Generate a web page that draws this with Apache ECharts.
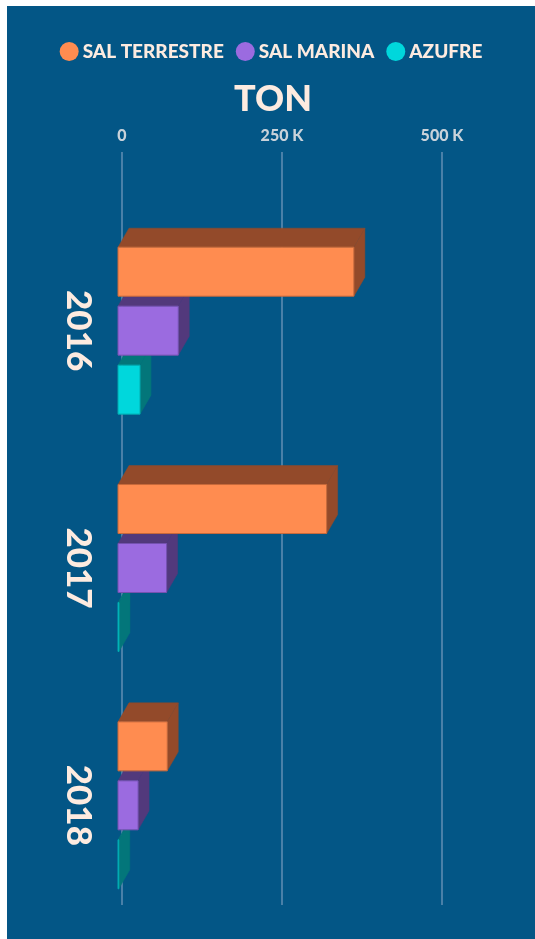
<!DOCTYPE html>
<html>
<head>
<meta charset="utf-8">
<script src="https://cdn.jsdelivr.net/npm/echarts@6/dist/echarts.min.js"></script>
<style>
  html, body { margin: 0; padding: 0; background: #ffffff; }
  #chart { position: absolute; left: 7px; top: 6px; width: 528px; height: 933px; }
</style>
</head>
<body>
<div id="chart"></div>
<script>
// ---- data ----
const years = ['2016', '2017', '2018'];
const seriesNames = ['SAL TERRESTRE', 'SAL MARINA', 'AZUFRE'];
const salTerrestre = [364000, 322000, 76000];
const salMarina = [93000, 75000, 31000];
const azufre = [34000, 1500, 1000];
const axisMin = 0;
const axisMax = 500000;
const axisInterval = 250000;
const axisTitle = 'TON';

// ---- styles ----
const BG = '#035686';
const PEACH = '#FDEBE0';
const faceColors = [
  { front: '#FF8C50', dark: '#934A2A', edge: '#C8693A' },
  { front: '#9B6BE0', dark: '#52397C', edge: '#7552B0' },
  { front: '#00D7DC', dark: '#03767A', edge: '#02A9AE' }
];
const DX = 11, DY = -19;

function makeRender(idx) {
  const c = faceColors[idx];
  return function (params, api) {
    const val = api.value(0);
    const cat = api.value(1);
    const base = api.coord([0, cat]);
    const end = api.coord([val, cat]);
    const band = api.size([0, 1])[1];
    const barH = band * 0.2065;
    const gap = band * 0.042;
    const cy = base[1] + (idx - 1) * (barH + gap);
    const y0 = cy - barH / 2, y1 = cy + barH / 2;
    const x0 = base[0], x1 = Math.max(end[0], base[0] + 0.8);
    return {
      type: 'group',
      children: [
        { type: 'polygon', shape: { points: [[x0, y0], [x1, y0], [x1 + DX, y0 + DY], [x0 + DX, y0 + DY]] },
          style: { fill: c.dark, stroke: c.dark, lineWidth: 0.5 } },
        { type: 'polygon', shape: { points: [[x1, y0], [x1, y1], [x1 + DX, y1 + DY], [x1 + DX, y0 + DY]] },
          style: { fill: c.dark, stroke: c.dark, lineWidth: 0.5 } },
        { type: 'rect', shape: { x: x0, y: y0, width: x1 - x0, height: y1 - y0 },
          style: { fill: c.front, stroke: c.edge, lineWidth: 1 } }
      ]
    };
  };
}

const allValues = [salTerrestre, salMarina, azufre];
const series = allValues.map(function (arr, i) {
  return {
    type: 'custom',
    name: seriesNames[i],
    xAxisIndex: 0,
    yAxisIndex: 0,
    z: 10 - i,
    clip: false,
    itemStyle: { color: faceColors[i].front },
    renderItem: makeRender(i),
    encode: { x: 0, y: 1 },
    data: arr.map(function (v, k) { return [v, k]; })
  };
});

const chart = echarts.init(document.getElementById('chart'), null, { renderer: 'canvas' });
chart.setOption({
  backgroundColor: BG,
  animation: false,
  legend: {
    data: seriesNames,
    top: 31,
    left: 'center',
    icon: 'circle',
    itemWidth: 19,
    itemHeight: 19,
    itemGap: 12,
    textStyle: { color: PEACH, fontFamily: 'Lato', fontWeight: 900, fontSize: 19, padding: [0, 0, 0, -1] }
  },
  graphic: [{
    type: 'text',
    x: 266,
    y: 93,
    style: { text: axisTitle, fill: PEACH, font: '900 36px Lato', textAlign: 'center', textVerticalAlign: 'middle' }
  }],
  grid: [
    { left: 111, right: 93, top: 206, bottom: 15 },
    { left: 115, right: 93, top: 146, bottom: 34 }
  ],
  xAxis: [
    { gridIndex: 0, type: 'value', min: axisMin, max: axisMax, interval: axisInterval, show: false },
    { gridIndex: 1, type: 'value', position: 'top', min: axisMin, max: axisMax, interval: axisInterval,
      axisLine: { show: false }, axisTick: { show: false },
      splitLine: { show: true, lineStyle: { color: '#4A80A8', width: 2 } },
      axisLabel: { margin: 8, color: '#C9D2DA', fontFamily: 'Lato', fontWeight: 900, fontSize: 16,
        formatter: function (v) { return v === 0 ? '0' : (v / 1000) + ' K'; } } }
  ],
  yAxis: [
    { gridIndex: 0, type: 'category', data: years, inverse: true,
      axisLine: { show: false }, axisTick: { show: false }, splitLine: { show: false },
      axisLabel: { rotate: -90, margin: 22, color: PEACH, fontFamily: 'Lato', fontWeight: 900, fontSize: 35 } },
    { gridIndex: 1, type: 'value', min: 0, max: 1, show: false }
  ],
  series: series
});
</script>
</body>
</html>
